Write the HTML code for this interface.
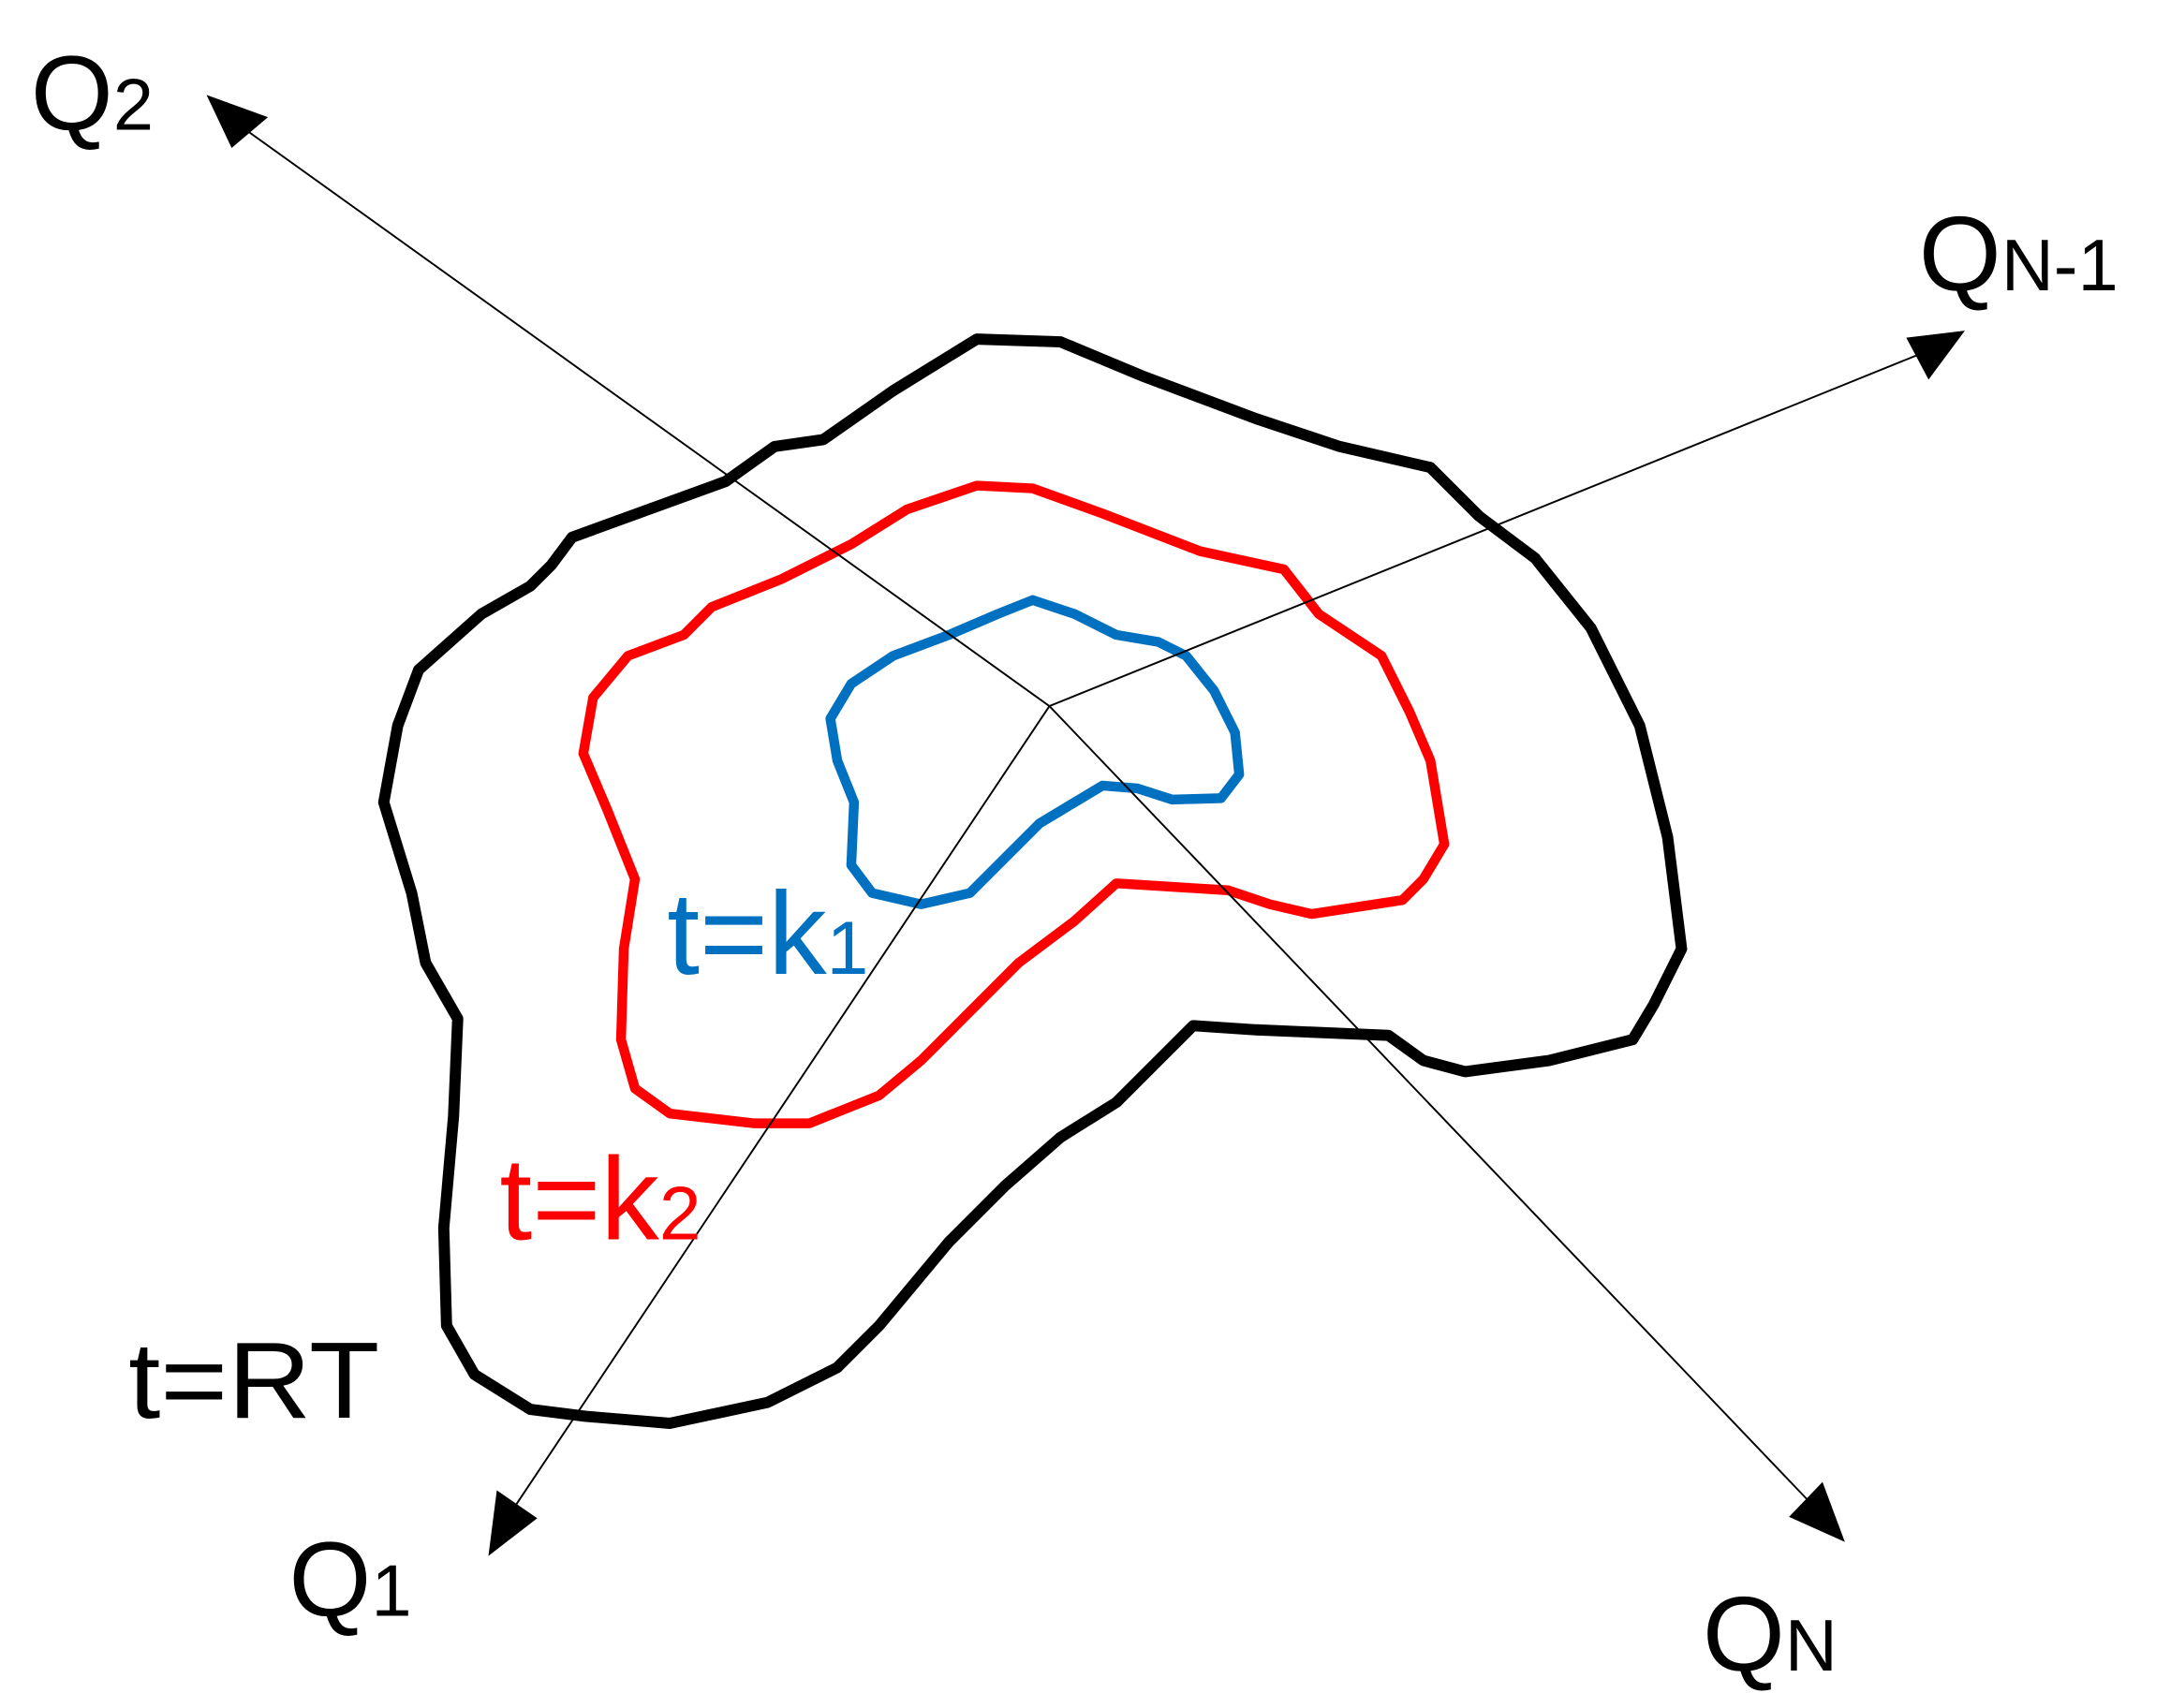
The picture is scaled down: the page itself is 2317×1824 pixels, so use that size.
<!DOCTYPE html>
<html><head><meta charset="utf-8"><style>
html,body{margin:0;padding:0;background:#fff;}
svg{display:block;}
text{font-family:"Liberation Sans",sans-serif;}
</style></head><body>
<svg width="2317" height="1824" viewBox="0 0 1555 1224" preserveAspectRatio="none" xmlns="http://www.w3.org/2000/svg">
<g fill="none" stroke-linejoin="round" stroke-linecap="round">
<polygon stroke="#000" stroke-width="8" points="410,385 520,345 555,320 590,315 640,280 700,243 760,245 820,270 900,300 960,320 1025,335 1060,370 1100,400 1140,450 1175,520 1195,600 1205,680 1185,720 1170,745 1110,760 1050,768 1020,760 995,742 900,738 855,735 830,760 800,790 760,815 720,850 680,890 630,950 600,980 550,1005 480,1020 420,1015 380,1010 340,985 320,950 318,880 325,800 328,730 305,690 295,640 275,575 285,520 300,480 345,440 380,420 395,405"/>
<polygon stroke="#ff0000" stroke-width="7" points="610,390 650,365 700,348 740,350 790,368 860,395 920,408 945,440 990,470 1010,510 1025,545 1035,605 1020,630 1005,645 940,655 910,648 880,638 800,633 770,660 730,690 690,730 660,760 630,785 580,805 540,805 480,798 455,780 445,745 447,680 455,630 435,580 418,540 425,500 450,470 490,455 510,435 560,415"/>
<polygon stroke="#0070c0" stroke-width="7" points="640,470 680,455 715,440 740,430 770,440 800,455 830,460 850,470 870,495 885,525 888,555 875,572 840,573 815,565 790,563 770,575 745,590 720,615 695,640 660,648 625,640 610,620 612,575 600,545 595,515 610,490"/>
</g>
<g stroke="#000" stroke-width="1.3" fill="none">
<line x1="752" y1="506" x2="165" y2="85"/>
<line x1="752" y1="506" x2="1385" y2="250"/>
<line x1="752" y1="506" x2="362" y2="1090"/>
<line x1="752" y1="506" x2="1305" y2="1085"/>
</g>
<g fill="#000">
<polygon points="148,68 192,84 166,106"/>
<polygon points="1408,237 1382,272 1366,242"/>
<polygon points="350,1115 356,1068 385,1088"/>
<polygon points="1322,1105 1282,1087 1306,1062"/>
</g>
<g font-size="76" fill="#000">
<text x="22" y="93">Q<tspan font-size="52">2</tspan></text>
<text x="1375" y="208">Q<tspan font-size="52">N-1</tspan></text>
<text x="207" y="1158">Q<tspan font-size="52">1</tspan></text>
<text x="1220" y="1197">Q<tspan font-size="52">N</tspan></text>
<text x="92" y="1016" font-size="78" textLength="180" lengthAdjust="spacingAndGlyphs">t=RT</text>
</g>
<text x="478" y="698" font-size="84" fill="#0070c0">t=k<tspan font-size="54">1</tspan></text>
<text x="358" y="888" font-size="84" fill="#ff0000">t=k<tspan font-size="54">2</tspan></text>
</svg>
</body></html>
